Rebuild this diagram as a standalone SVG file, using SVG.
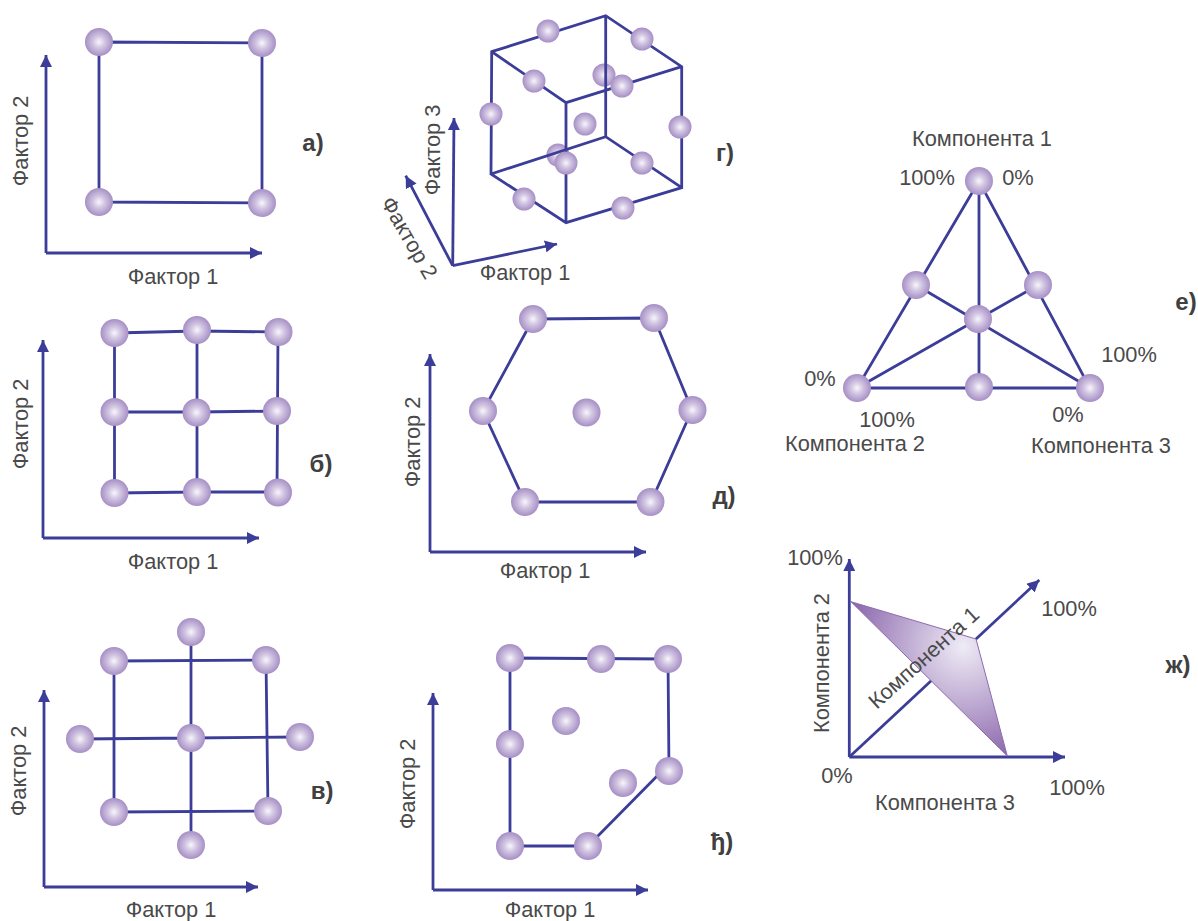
<svg xmlns="http://www.w3.org/2000/svg" width="1198" height="921" viewBox="0 0 1198 921">
<style>
text{font-family:"Liberation Sans",Arial,sans-serif;font-size:21.8px;fill:#4a4a4a;text-anchor:middle}
.l{font-weight:bold;font-size:24px;fill:#404040}
.e{fill:none;stroke:#3b3d98;stroke-width:2.800}
.a{fill:none;stroke:#3b3d98;stroke-width:2.800;marker-end:url(#arr)}
circle{fill:url(#ball)}
.n circle{r:14px}
.s circle{r:11.5px}
</style>
<defs>
<radialGradient id="ball" cx="0.5" cy="0.5" r="0.5"><stop offset="0" stop-color="#f8f6fb"/><stop offset="0.4" stop-color="#d3c7e3"/><stop offset="1" stop-color="#a68fc5"/></radialGradient>
<radialGradient id="tri" gradientUnits="userSpaceOnUse" cx="963" cy="647" r="118"><stop offset="0" stop-color="#efebf6"/><stop offset="1" stop-color="#8a66ab"/></radialGradient>
<marker id="arr" markerUnits="userSpaceOnUse" markerWidth="14" markerHeight="12" refX="12" refY="6" orient="auto"><path d="M0 0L12 6L0 12z" fill="#3b3d98"/></marker>
</defs>
<g id="connectors">
<path class="e" d="M99 42L262 43L262 203L99 202z"/>
<path class="a" d="M46 253L46 55"/><path class="a" d="M46 253L262 253"/>
<path class="e" d="M114.500 333L197 331L278 332L277 492L197 492L114.500 493zM197 331V492M114.500 412L197 412L277 411"/>
<path class="a" d="M43 538L43 340"/><path class="a" d="M43 538L259 538"/>
<path class="e" d="M114 661L266 660L268 811L114 812zM191 632V845M80 739L191 738L300 737"/>
<path class="a" d="M44 887L44 690"/><path class="a" d="M44 887L258 887"/>
<g id="back-spheres" class="s"><circle cx="604" cy="75"/><circle cx="558" cy="155"/></g>
<path class="e" d="M491.700 51.700L605.700 15.700L681.700 66.700L681.700 187.700L566 222.700L491 174zM491.700 51.700L566 102.700L681.700 66.700M566 102.700V222.700M605.700 15.700V136.700M491 174L605.700 136.700L681.700 187.700"/>
<path class="a" d="M452.700 265.700L454 118"/><path class="a" d="M452.700 265.700L405.700 175.700"/><path class="a" d="M452.700 265.700L557 244"/>
<path class="e" d="M533 319L654 318L692 410L651 502L525 502L483 411z"/>
<path class="a" d="M430 552L430 354"/><path class="a" d="M430 552L646 552"/>
<path class="e" d="M510 658L668 659L669 771M662 771L590 844L588 846L510 846L510 658"/>
<path class="a" d="M433 890L433 693"/><path class="a" d="M433 890L648 890"/>
<path class="e" d="M979 181L857 388H1090zM979 181V387M916 285L1090 388M1038 285L857 388"/>
<path class="a" d="M849.300 757V559"/><path class="a" d="M849.300 757H1065"/><path class="a" d="M849.300 757L1039.300 580"/>
</g>
<path id="plane" d="M851 601.700L976 639L1007.300 756z" fill="url(#tri)" stroke="#8e6bae" stroke-width="1"/>
<g id="nodes-a" class="n">
<g id="a1"><circle cx="99" cy="42"/></g><g id="a2"><circle cx="262" cy="43"/></g><g id="a3"><circle cx="99" cy="202"/></g><g id="a4"><circle cx="262" cy="203"/></g>
</g>
<g id="nodes-b" class="n">
<g id="b1"><circle cx="114.500" cy="333"/></g><g id="b2"><circle cx="197" cy="330"/></g><g id="b3"><circle cx="278.500" cy="332"/></g>
<g id="b4"><circle cx="114.500" cy="412"/></g><g id="b5"><circle cx="196.500" cy="412.500"/></g><g id="b6"><circle cx="277" cy="411"/></g>
<g id="b7"><circle cx="114.500" cy="493"/></g><g id="b8"><circle cx="197" cy="492"/></g><g id="b9"><circle cx="278" cy="492.500"/></g>
</g>
<g id="nodes-v" class="n">
<g id="v1"><circle cx="191" cy="632"/></g><g id="v2"><circle cx="114" cy="661"/></g><g id="v3"><circle cx="266" cy="660"/></g>
<g id="v4"><circle cx="80" cy="739"/></g><g id="v5"><circle cx="191" cy="738"/></g><g id="v6"><circle cx="300" cy="737"/></g>
<g id="v7"><circle cx="114" cy="812"/></g><g id="v8"><circle cx="268" cy="811"/></g><g id="v9"><circle cx="191" cy="845"/></g>
</g>
<g id="nodes-g" class="s">
<g id="g1"><circle cx="548" cy="31"/></g><g id="g2"><circle cx="642" cy="39"/></g><g id="g3"><circle cx="534" cy="81"/></g>
<g id="g4"><circle cx="622" cy="86"/></g><g id="g5"><circle cx="491" cy="114"/></g><g id="g6"><circle cx="680" cy="127"/></g>
<g id="g7"><circle cx="585" cy="124"/></g><g id="g8"><circle cx="566" cy="163"/></g><g id="g9"><circle cx="642" cy="163"/></g>
<g id="g10"><circle cx="524" cy="199"/></g><g id="g11"><circle cx="623" cy="208"/></g>
</g>
<g id="nodes-d" class="n">
<g id="d1"><circle cx="533" cy="319"/></g><g id="d2"><circle cx="654" cy="318"/></g><g id="d3"><circle cx="483" cy="411"/></g><g id="d4"><circle cx="586.500" cy="412.500"/></g>
<g id="d5"><circle cx="692.500" cy="410"/></g><g id="d6"><circle cx="525" cy="502"/></g><g id="d7"><circle cx="650.500" cy="502"/></g>
</g>
<g id="nodes-dj" class="n">
<g id="j1"><circle cx="510" cy="658"/></g><g id="j2"><circle cx="601" cy="659"/></g><g id="j3"><circle cx="668" cy="659"/></g>
<g id="j4"><circle cx="566" cy="721"/></g><g id="j5"><circle cx="510" cy="744"/></g><g id="j6"><circle cx="669" cy="771"/></g>
<g id="j7"><circle cx="623" cy="783"/></g><g id="j8"><circle cx="510" cy="846"/></g><g id="j9"><circle cx="588" cy="846"/></g>
</g>
<g id="nodes-e" class="n">
<g id="e1"><circle cx="979" cy="181"/></g><g id="e2"><circle cx="916" cy="285"/></g><g id="e3"><circle cx="1038" cy="285"/></g><g id="e4"><circle cx="978" cy="319"/></g>
<g id="e5"><circle cx="857" cy="388"/></g><g id="e6"><circle cx="979" cy="387"/></g><g id="e7"><circle cx="1090" cy="388"/></g>
</g>
<g id="labels">
<text x="173" y="284">Фактор 1</text><text transform="translate(21 141) rotate(-90)" y="7">Фактор 2</text><text class="l" x="313" y="151">а)</text>
<text x="173" y="569">Фактор 1</text><text transform="translate(21 424) rotate(-90)" y="7">Фактор 2</text><text class="l" x="321" y="472">б)</text>
<text x="171" y="916.500">Фактор 1</text><text transform="translate(19 771) rotate(-90)" y="7">Фактор 2</text><text class="l" x="322" y="799">в)</text>
<text x="525" y="280">Фактор 1</text><text transform="translate(433 150) rotate(-90)" y="7">Фактор 3</text><text transform="translate(409 238) rotate(60)" y="7">Фактор 2</text><text class="l" x="725" y="161">г)</text>
<text x="545" y="578">Фактор 1</text><text transform="translate(413 442) rotate(-90)" y="7">Фактор 2</text><text class="l" x="724" y="504">д)</text>
<text x="550" y="916.500">Фактор 1</text><text transform="translate(408 784) rotate(-90)" y="7">Фактор 2</text><text class="l" x="722" y="850">ђ)</text>
<text x="982" y="146">Компонента 1</text><text x="927" y="185">100%</text><text x="1018" y="185">0%</text>
<text x="1129" y="362">100%</text><text x="820" y="386">0%</text><text x="887" y="427">100%</text><text x="1068" y="422">0%</text>
<text x="855" y="451">Компонента 2</text><text x="1101" y="453">Компонента 3</text><text class="l" x="1186" y="310">е)</text>
<text x="815" y="565">100%</text><text x="1069" y="616">100%</text><text x="837" y="783">0%</text><text x="1077" y="795">100%</text>
<text x="945" y="810">Компонента 3</text><text transform="translate(822 663) rotate(-90)" y="7">Компонента 2</text><text transform="translate(924 658) rotate(-42)" y="7">Компонента 1</text><text class="l" x="1178" y="673">ж)</text>
</g>
</svg>
